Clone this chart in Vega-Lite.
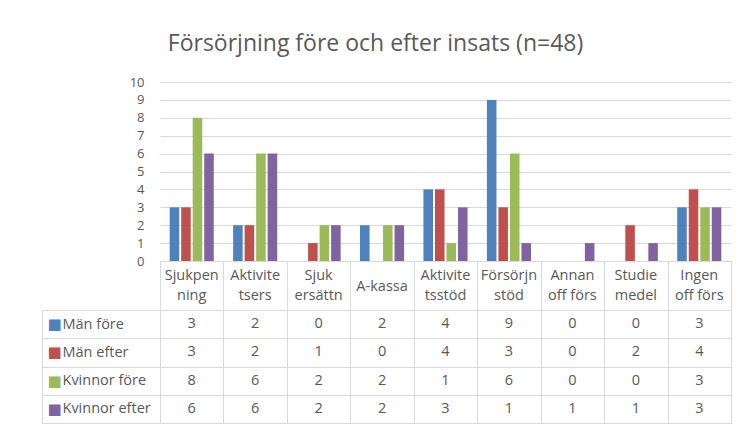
{
  "$schema": "https://vega.github.io/schema/vega-lite/v6.json",
  "padding": {"left": 41, "top": 33, "right": 5, "bottom": 0},
  "background": "white",
  "title": {"text": "Försörjning före och efter insats (n=48)", "font": "Open Sans", "fontSize": 23, "fontWeight": "normal", "color": "#595959", "anchor": "middle", "offset": 20, "dx": -11},
  "config": {"view": {"stroke": null}, "font": "Open Sans", "concat": {"spacing": -8}},
  "data": {"values": [
    {"category": "Sjukpen|ning", "series": "Män före", "value": 3},
    {"category": "Sjukpen|ning", "series": "Män efter", "value": 3},
    {"category": "Sjukpen|ning", "series": "Kvinnor före", "value": 8},
    {"category": "Sjukpen|ning", "series": "Kvinnor efter", "value": 6},
    {"category": "Aktivite|tsers", "series": "Män före", "value": 2},
    {"category": "Aktivite|tsers", "series": "Män efter", "value": 2},
    {"category": "Aktivite|tsers", "series": "Kvinnor före", "value": 6},
    {"category": "Aktivite|tsers", "series": "Kvinnor efter", "value": 6},
    {"category": "Sjuk|ersättn", "series": "Män före", "value": 0},
    {"category": "Sjuk|ersättn", "series": "Män efter", "value": 1},
    {"category": "Sjuk|ersättn", "series": "Kvinnor före", "value": 2},
    {"category": "Sjuk|ersättn", "series": "Kvinnor efter", "value": 2},
    {"category": "A-kassa", "series": "Män före", "value": 2},
    {"category": "A-kassa", "series": "Män efter", "value": 0},
    {"category": "A-kassa", "series": "Kvinnor före", "value": 2},
    {"category": "A-kassa", "series": "Kvinnor efter", "value": 2},
    {"category": "Aktivite|tsstöd", "series": "Män före", "value": 4},
    {"category": "Aktivite|tsstöd", "series": "Män efter", "value": 4},
    {"category": "Aktivite|tsstöd", "series": "Kvinnor före", "value": 1},
    {"category": "Aktivite|tsstöd", "series": "Kvinnor efter", "value": 3},
    {"category": "Försörjn|stöd", "series": "Män före", "value": 9},
    {"category": "Försörjn|stöd", "series": "Män efter", "value": 3},
    {"category": "Försörjn|stöd", "series": "Kvinnor före", "value": 6},
    {"category": "Försörjn|stöd", "series": "Kvinnor efter", "value": 1},
    {"category": "Annan|off förs", "series": "Män före", "value": 0},
    {"category": "Annan|off förs", "series": "Män efter", "value": 0},
    {"category": "Annan|off förs", "series": "Kvinnor före", "value": 0},
    {"category": "Annan|off förs", "series": "Kvinnor efter", "value": 1},
    {"category": "Studie|medel", "series": "Män före", "value": 0},
    {"category": "Studie|medel", "series": "Män efter", "value": 2},
    {"category": "Studie|medel", "series": "Kvinnor före", "value": 0},
    {"category": "Studie|medel", "series": "Kvinnor efter", "value": 1},
    {"category": "Ingen|off förs", "series": "Män före", "value": 3},
    {"category": "Ingen|off förs", "series": "Män efter", "value": 4},
    {"category": "Ingen|off förs", "series": "Kvinnor före", "value": 3},
    {"category": "Ingen|off förs", "series": "Kvinnor efter", "value": 3}
  ]},
  "vconcat": [
    {
      "width": 571,
      "height": 179,
      "encoding": {
        "x": {
          "field": "category", "type": "nominal",
          "sort": ["Sjukpen|ning", "Aktivite|tsers", "Sjuk|ersättn", "A-kassa", "Aktivite|tsstöd", "Försörjn|stöd", "Annan|off förs", "Studie|medel", "Ingen|off förs"],
          "scale": {"paddingInner": 0, "paddingOuter": 0},
          "axis": {"title": null, "labels": false, "tickBand": "extent", "tickSize": 48, "tickColor": "#d9d9d9", "domainColor": "#d9d9d9"}
        }
      },
      "layer": [
        {
          "mark": {"type": "bar"},
          "encoding": {
            "xOffset": {
              "field": "series", "type": "nominal",
              "sort": ["Män före", "Män efter", "Kvinnor före", "Kvinnor efter"],
              "scale": {"paddingInner": 0.17, "paddingOuter": 0.84}
            },
            "y": {
              "field": "value", "type": "quantitative",
              "scale": {"domain": [0, 10], "nice": false, "zero": false},
              "axis": {"title": null, "values": [0, 1, 2, 3, 4, 5, 6, 7, 8, 9, 10], "labelOverlap": false, "grid": true, "gridColor": "#d9d9d9", "ticks": false, "domain": false, "labelPadding": 16, "labelFont": "Open Sans", "labelFontSize": 13, "labelColor": "#595959"}
            },
            "color": {
              "field": "series", "type": "nominal",
              "scale": {"domain": ["Män före", "Män efter", "Kvinnor före", "Kvinnor efter"], "range": ["#4f81bd", "#c0504d", "#9bbb59", "#8064a2"]},
              "legend": null
            }
          }
        },
        {
          "transform": [{"filter": "datum.series === 'Män före' && indexof(datum.category, '|') >= 0"}],
          "mark": {"type": "text", "font": "Open Sans", "fontSize": 14.5, "color": "#595959", "lineBreak": "|", "lineHeight": 20, "baseline": "top"},
          "encoding": {
            "y": {"datum": -0.45, "type": "quantitative",
              "scale": {"domain": [0, 10], "nice": false, "zero": false},
              "axis": {"title": null, "values": [0, 1, 2, 3, 4, 5, 6, 7, 8, 9, 10], "labelOverlap": false, "grid": true, "gridColor": "#d9d9d9", "ticks": false, "domain": false, "labelPadding": 16, "labelFont": "Open Sans", "labelFontSize": 13, "labelColor": "#595959"}},
            "text": {"field": "category", "type": "nominal"}
          }
        },
        {
          "transform": [{"filter": "datum.series === 'Män före' && indexof(datum.category, '|') < 0"}],
          "mark": {"type": "text", "font": "Open Sans", "fontSize": 14.5, "color": "#595959", "baseline": "middle"},
          "encoding": {
            "y": {"datum": -1.45, "type": "quantitative",
              "scale": {"domain": [0, 10], "nice": false, "zero": false},
              "axis": {"title": null, "values": [0, 1, 2, 3, 4, 5, 6, 7, 8, 9, 10], "labelOverlap": false, "grid": true, "gridColor": "#d9d9d9", "ticks": false, "domain": false, "labelPadding": 16, "labelFont": "Open Sans", "labelFontSize": 13, "labelColor": "#595959"}},
            "text": {"field": "category", "type": "nominal"}
          }
        }
      ]
    },
    {
      "width": 571,
      "height": 113,
      "layer": [
        {
          "mark": {"type": "text", "font": "Open Sans", "fontSize": 14.5, "color": "#595959"},
          "encoding": {
            "x": {
              "field": "category", "type": "nominal",
              "sort": ["Sjukpen|ning", "Aktivite|tsers", "Sjuk|ersättn", "A-kassa", "Aktivite|tsstöd", "Försörjn|stöd", "Annan|off förs", "Studie|medel", "Ingen|off förs"],
              "scale": {"paddingInner": 0, "paddingOuter": 0},
              "axis": {"title": null, "labels": false, "ticks": false, "domain": false, "grid": true, "tickBand": "extent", "gridColor": "#d9d9d9"}
            },
            "y": {
              "field": "series", "type": "nominal",
              "sort": ["Män före", "Män efter", "Kvinnor före", "Kvinnor efter"],
              "scale": {"paddingInner": 0, "paddingOuter": 0},
              "axis": {"title": null, "grid": true, "tickBand": "extent", "gridColor": "#d9d9d9", "ticks": true, "tickSize": 118, "tickColor": "#d9d9d9", "domain": false, "labelAlign": "left", "labelPadding": -20, "labelFont": "Open Sans", "labelFontSize": 14.5, "labelColor": "#595959"}
            },
            "text": {"field": "value", "type": "quantitative"}
          }
        },
        {
          "mark": {"type": "text", "opacity": 0},
          "encoding": {
            "y": {
              "field": "series", "type": "nominal",
              "sort": ["Män före", "Män efter", "Kvinnor före", "Kvinnor efter"],
              "axis": {"orient": "left", "title": null, "offset": 118, "grid": false, "ticks": false, "tickSize": 0, "domain": true, "domainColor": "#d9d9d9", "labelExpr": "'■'", "labelAlign": "center", "labelPadding": -12, "labelFont": "DejaVu Sans", "labelFontSize": 15,
                "labelColor": {"condition": [
                  {"test": "datum.value === 'Män före'", "value": "#4f81bd"},
                  {"test": "datum.value === 'Män efter'", "value": "#c0504d"},
                  {"test": "datum.value === 'Kvinnor före'", "value": "#9bbb59"}
                ], "value": "#8064a2"}}
            },
            "text": {"field": "value", "type": "quantitative"}
          }
        }
      ],
      "resolve": {"axis": {"y": "independent"}}
    }
  ]
}
